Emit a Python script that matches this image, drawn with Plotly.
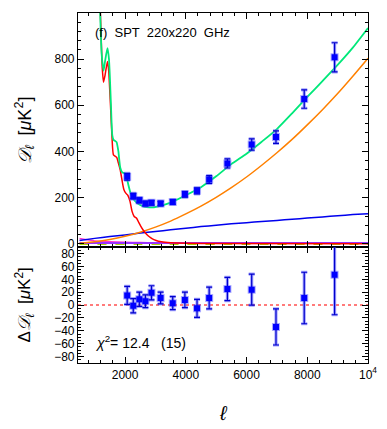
import plotly.graph_objects as go

# ---- band powers (SPT 220x220) ----
ell = [2070, 2270, 2470, 2670, 2870, 3170, 3570, 3970, 4370, 4770, 5370, 6170, 6970, 7900, 8900]
dl = [290, 206, 188, 174, 177, 174, 181, 214, 229, 278, 348, 430, 462, 627, 808]
dl_err = [15, 12, 11, 10, 10, 9, 10, 12, 13, 17, 20, 24, 27, 40, 63]
resid = [15, -1, 9, 6, 19, 11, 3, 8, -5, 11, 25, 24, -34, 11, 47]
resid_err = [14, 11, 11, 10, 11, 9, 10, 12, 14, 17, 18, 24, 28, 40, 62]

# ---- model curves ----
ell_tot = [1150, 1180, 1230, 1290, 1340, 1420, 1470, 1530, 1580, 1620, 1680, 1720, 1780, 1840,
           1900, 1980, 2040, 2100, 2180, 2270, 2380, 2500, 2650, 2800, 2950, 3200, 3500, 4000,
           4500, 5000, 5500, 6000, 6500, 7000, 7500, 8000, 8500, 9000, 9500, 10000]
dl_tot = [1150, 1000, 820, 750, 790, 848, 800, 620, 470, 450, 445, 440, 400, 330,
          310, 305, 295, 260, 220, 195, 178, 168, 160, 158, 158, 165, 178, 210,
          245, 292, 345, 390, 442, 497, 565, 636, 705, 775, 850, 935]

ell_cmb = [1150, 1200, 1250, 1290, 1340, 1420, 1460, 1520, 1570, 1617, 1670, 1720, 1780, 1840,
           1900, 1960, 2030, 2090, 2160, 2230, 2300, 2380, 2450, 2520, 2600, 2700, 2800, 2900,
           3000, 3200, 3500, 4000, 5000, 10000]
dl_cmb = [1150, 950, 760, 700, 730, 790, 750, 600, 460, 385, 380, 375, 350, 320,
          275, 235, 218, 210, 185, 140, 118, 110, 92, 75, 58, 42, 30, 21,
          15, 8, 4, 2, 1, 0]

ell_fg = [500, 1000, 1500, 2000, 2500, 3000, 3500, 4000, 4500, 5000, 5500, 6000, 6500,
          7000, 7500, 8000, 8500, 9000, 9500, 10000]
dl_poisson = [2, 8, 18, 32, 50, 72, 98, 129, 163, 201, 243, 289, 340,
              394, 452, 515, 581, 651, 726, 804]
dl_clust = [14, 23, 31, 38, 46, 53, 60, 67, 74, 80, 86, 91, 96,
            101, 106, 111, 116, 121, 126, 130]
dl_radio = [22, 12, 8, 6, 5, 4, 4, 3, 3, 3, 3, 3, 3, 3, 3, 3, 3, 3, 3, 3]
dl_sz = [3, 3, 3, 3, 3, 3, 3, 3, 3, 3, 3, 3, 3, 3, 3, 3, 3, 3, 3, 3]
dl_other = [-2, -2, -2, -2, -2, -2, -2, -2, -2, -2, -2, -2, -2, -2, -2, -2, -2, -2, -2, -2]

FONT = "Liberation Sans"

fig = go.Figure()


def curve(x, y, colour, dash="solid", width=1.5, axis=("x", "y")):
    fig.add_trace(go.Scatter(
        x=x, y=y, mode="lines", xaxis=axis[0], yaxis=axis[1],
        line=dict(color=colour, width=width, dash=dash, shape="spline", smoothing=0.6),
        showlegend=False, hoverinfo="skip",
    ))


curve(ell_fg, dl_other, "#a8d800", dash="dash")
curve(ell_fg, dl_radio, "#ff33cc")
curve(ell_fg, dl_sz, "#9933ff", width=2)
curve(ell_fg, dl_clust, "#0000ee")
curve(ell_fg, dl_poisson, "#ff8000")
curve(ell_cmb, dl_cmb, "#ff0000")
curve(ell_tot, dl_tot, "#00e87a", width=1.8)


def points(y, err, axis):
    # light outer bar + dark inner bar, like the original
    fig.add_trace(go.Scatter(
        x=ell, y=y, mode="markers", xaxis=axis[0], yaxis=axis[1],
        marker=dict(symbol="square", size=8, color="rgba(90,90,255,0.5)"),
        error_y=dict(type="data", array=err, color="rgba(90,90,255,0.55)", thickness=3.2, width=3),
        showlegend=False, hoverinfo="skip",
    ))
    fig.add_trace(go.Scatter(
        x=ell, y=y, mode="markers", xaxis=axis[0], yaxis=axis[1],
        marker=dict(symbol="square", size=6, color="#0000ff"),
        error_y=dict(type="data", array=err, color="#0000cc", thickness=1.2, width=3),
        showlegend=False,
        hovertemplate="ℓ=%{x}<br>%{y}<extra></extra>",
    ))


points(dl, dl_err, ("x", "y"))

# zero line in residual panel
fig.add_trace(go.Scatter(
    x=[450, 10000], y=[0, 0], mode="lines", xaxis="x2", yaxis="y2",
    line=dict(color="#ff5050", width=1.5, dash="dot"), showlegend=False, hoverinfo="skip",
))
points(resid, resid_err, ("x2", "y2"))

_ax = dict(
    showline=True, linecolor="black", linewidth=1.2, mirror="allticks",
    ticks="inside", ticklen=6, tickcolor="black", tickwidth=1,
    showgrid=False, zeroline=False,
    tickfont=dict(family=FONT, size=12, color="black"),
)
xticks = [2000, 4000, 6000, 8000, 10000]

# page body adds an 8px margin, so the figure is sized 8px smaller
fig.update_layout(
    width=379, height=421,
    plot_bgcolor="white", paper_bgcolor="white",
    margin=dict(l=70, r=19, t=5, b=66),
    font=dict(family=FONT, size=12, color="black"),
    xaxis=dict(domain=[0, 1], anchor="y", range=[450, 10000], tickvals=xticks,
               showticklabels=False,
               minor=dict(dtick=400, tick0=0, ticks="inside", ticklen=3, tickcolor="black"),
               **_ax),
    yaxis=dict(domain=[0.331, 1], anchor="x", range=[-15, 1000], dtick=200,
               minor=dict(dtick=40, ticks="inside", ticklen=3, tickcolor="black"),
               **_ax),
    xaxis2=dict(domain=[0, 1], anchor="y2", range=[450, 10000], matches="x",
                tickvals=xticks, ticktext=["2000", "4000", "6000", "8000", "10<sup>4</sup>"],
                minor=dict(dtick=400, tick0=0, ticks="inside", ticklen=3, tickcolor="black"),
                **_ax),
    yaxis2=dict(domain=[0, 0.331], anchor="x2", range=[-90, 90], dtick=20,
                minor=dict(dtick=5, ticks="inside", ticklen=3, tickcolor="black"),
                **_ax),
)

fig.add_annotation(
    text="(f)  SPT  220x220  GHz", xref="paper", yref="paper",
    x=0.05, y=0.943, xanchor="left", yanchor="middle", showarrow=False,
    font=dict(family=FONT, size=13, color="black"),
)
fig.add_annotation(
    text="<i>χ</i><sup>2</sup>= 12.4   (15)", xref="paper", yref="paper",
    x=0.05, y=0.06, xanchor="left", yanchor="middle", showarrow=False,
    font=dict(family=FONT, size=14, color="black"),
)
fig.add_annotation(
    text="<i>𝒟<sub>ℓ</sub></i>  [<i>μ</i>K<sup>2</sup>]", xref="paper", yref="paper",
    x=-0.185, y=0.665, xanchor="center", yanchor="middle", textangle=-90, showarrow=False,
    font=dict(family=FONT, size=18, color="black"),
)
fig.add_annotation(
    text="Δ<i>𝒟<sub>ℓ</sub></i>  [<i>μ</i>K<sup>2</sup>]", xref="paper", yref="paper",
    x=-0.185, y=0.165, xanchor="center", yanchor="middle", textangle=-90, showarrow=False,
    font=dict(family=FONT, size=17, color="black"),
)
fig.add_annotation(
    text="<i>ℓ</i>", xref="paper", yref="paper",
    x=0.5, y=-0.105, xanchor="center", yanchor="top", showarrow=False,
    font=dict(family=FONT, size=20, color="black"),
)

fig.write_html("out.html")
